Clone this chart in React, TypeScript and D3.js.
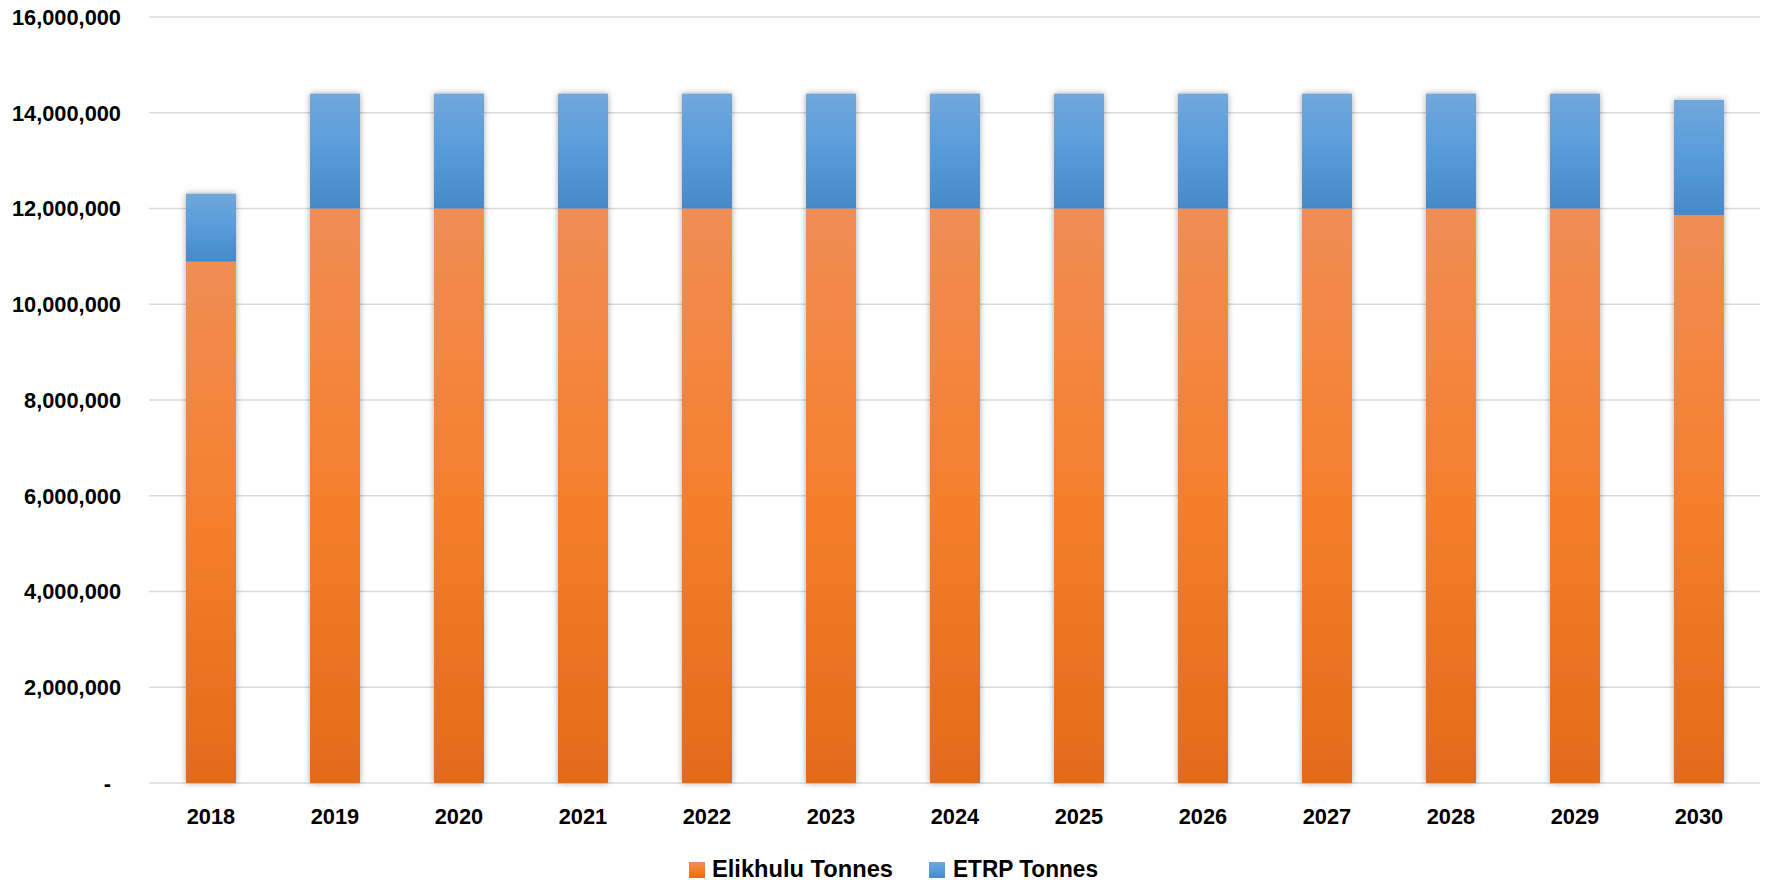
import React from "react";
import * as d3 from "d3";

const years = ["2018","2019","2020","2021","2022","2023","2024","2025","2026","2027","2028","2029","2030"];
const elikhulu = [10890000,12000000,12000000,12000000,12000000,12000000,12000000,12000000,12000000,12000000,12000000,12000000,11860000];
const etrp = [1420000,2400000,2400000,2400000,2400000,2400000,2400000,2400000,2400000,2400000,2400000,2400000,2410000];
const yTicks = [0,2000000,4000000,6000000,8000000,10000000,12000000,14000000,16000000];
const seriesNames = ["Elikhulu Tonnes","ETRP Tonnes"];

const W = 1768, H = 882;
const left = 149, right = 1761, top = 17, bottom = 783;
const font = "'Liberation Sans', Arial, sans-serif";

export default function App() {
  const x = d3.scaleBand<string>().domain(years).range([left, right]).paddingInner(0.597).paddingOuter(0.2985);
  const y = d3.scaleLinear().domain([0, 16000000]).range([bottom, top]);
  const fmt = d3.format(",");
  const bw = x.bandwidth();
  return (
    <svg width={W} height={H} style={{ position: "absolute", left: 0, top: 0, background: "#fff" }}>
      <defs>
        <linearGradient id="gOr" x1="0" y1="0" x2="0" y2="1">
          <stop offset="0" stopColor="#F18D56" />
          <stop offset="0.5" stopColor="#F57F2C" />
          <stop offset="1" stopColor="#E36A19" />
        </linearGradient>
        <linearGradient id="gBl" x1="0" y1="0" x2="0" y2="1">
          <stop offset="0" stopColor="#71A7DC" />
          <stop offset="0.5" stopColor="#579CDA" />
          <stop offset="1" stopColor="#4589C8" />
        </linearGradient>
        <filter id="sh" x="-30%" y="-10%" width="160%" height="120%">
          <feDropShadow dx="0" dy="0" stdDeviation="3" floodColor="#000" floodOpacity="0.35" />
        </filter>
      </defs>
      {yTicks.map((t) => (
        <g key={t}>
          <line x1={left} x2={right - 1} y1={y(t)} y2={y(t)} stroke="#D9D9D9" strokeWidth={1.5} />
          <text x={t === 0 ? 111 : 121} y={y(t)} dy="0.36em" textAnchor="end" fontFamily={font} fontWeight="bold" fontSize={21.8} fill="#000">
            {t === 0 ? "-" : fmt(t)}
          </text>
        </g>
      ))}
      {years.map((yr, i) => {
        const bx = x(yr)!;
        const y0 = y(0), y1 = y(elikhulu[i]), y2 = y(elikhulu[i] + etrp[i]);
        return (
          <g key={yr} filter="url(#sh)">
            <rect x={bx} y={y1} width={bw} height={y0 - y1} fill="url(#gOr)" />
            <rect x={bx} y={y2} width={bw} height={y1 - y2} fill="url(#gBl)" />
          </g>
        );
      })}
      {years.map((yr) => (
        <text key={yr} x={x(yr)! + bw / 2} y={824} textAnchor="middle" fontFamily={font} fontWeight="bold" fontSize={21.8} fill="#000">
          {yr}
        </text>
      ))}
      <g>
        <rect x={689} y={862} width={16} height={16} fill="url(#gOr)" />
        <text x={712} y={877} fontFamily={font} fontWeight="bold" fontSize={23.5} fill="#000" textLength={181} lengthAdjust="spacingAndGlyphs">{seriesNames[0]}</text>
        <rect x={929} y={862} width={16} height={16} fill="url(#gBl)" />
        <text x={953} y={877} fontFamily={font} fontWeight="bold" fontSize={23.5} fill="#000" textLength={145} lengthAdjust="spacingAndGlyphs">{seriesNames[1]}</text>
      </g>
    </svg>
  );
}
